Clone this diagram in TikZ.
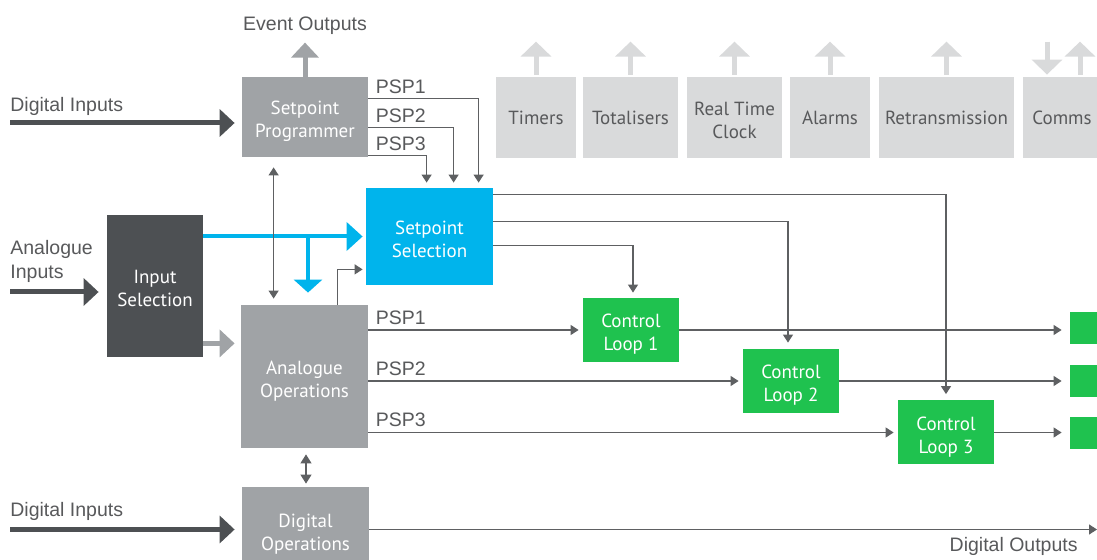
\documentclass[tikz,border=0pt]{standalone}
\usepackage{fontspec}
\setmainfont{Liberation Sans}
\newfontfamily\blkfont{PT Sans}
\usetikzlibrary{arrows.meta,calc}
\definecolor{txtgray}{HTML}{58595B}
\definecolor{linegray}{HTML}{5E6062}
\definecolor{darkbox}{HTML}{4D5053}
\definecolor{midgray}{HTML}{A0A3A6}
\definecolor{lightgray}{HTML}{D9DADB}
\definecolor{spblue}{HTML}{00B4EC}
\definecolor{loopgreen}{HTML}{1FC24F}
\begin{document}
\begin{tikzpicture}[x=0.5pt,y=-0.5pt,
  box/.style={inner sep=0pt,align=center,text=white,font=\blkfont\fontsize{9.5}{11.5}\selectfont},
  blk/.style={box,text height=21pt,text depth=0pt},
  topbox/.style={box,fill=lightgray,text=txtgray,minimum height=40.5pt},
  loopbox/.style={blk,fill=loopgreen,minimum width=48pt,minimum height=32pt},
  lbl/.style={inner sep=0pt,text=txtgray,font=\fontsize{9.75}{12}\selectfont},
  thin/.style={draw=linegray,line width=0.6pt,-{Triangle[width=5pt,length=4pt]}},
  fat/.style={line width=2.5pt,-{Triangle[width=13.5pt,length=7.5pt]}}]

\useasboundingbox (0,0) rectangle (1097,560);
\clip (0,0) rectangle (1097,560);

% blocks
\node[blk,fill=midgray,minimum width=63pt,minimum height=40pt] (prog) at (305,117) {Setpoint\\Programmer};
\node[topbox,minimum width=40pt] (timers) at (536,117.5) {Timers};
\node[topbox,minimum width=47.5pt] (totals) at (630.5,117.5) {Totalisers};
\node[topbox,minimum width=47.5pt,text height=21pt,text depth=0pt] (rtc) at (734.5,117.5) {Real Time\\Clock};
\node[topbox,minimum width=40pt] (alarms) at (830,117.5) {Alarms};
\node[topbox,minimum width=67.5pt] (retrans) at (946.5,117.5) {Retransmission};
\node[topbox,minimum width=39pt] (comms) at (1062,117.5) {Comms};
\node[blk,fill=spblue,minimum width=63.5pt,minimum height=48.5pt] (setsel) at (429.5,236.5) {Setpoint\\Selection};
\node[blk,fill=darkbox,minimum width=48pt,minimum height=71pt] (insel) at (155,286) {Input\\Selection};
\node[blk,fill=midgray,minimum width=63.5pt,minimum height=71.5pt] (anaop) at (304.5,376.5) {Analogue\\Operations};
\node[blk,fill=midgray,minimum width=63.5pt,minimum height=42.5pt] (digop) at (305.5,529.5) {Digital\\Operations};
\node[loopbox] (cl1) at (631,330) {Control\\Loop 1};
\node[loopbox] (cl2) at (791,381) {Control\\Loop 2};
\node[loopbox] (cl3) at (946,432.5) {Control\\Loop 3};
\node[box,fill=loopgreen,minimum width=20pt,minimum height=16pt] (out1) at (1090,328.5) {};
\node[box,fill=loopgreen,minimum width=20pt,minimum height=16pt] (out2) at (1090,381) {};
\node[box,fill=loopgreen,minimum width=20pt,minimum height=16pt] (out3) at (1090,433) {};

% outside labels
\node[lbl] (evout) at (305,26) {Event Outputs};
\node[lbl,anchor=west] (digin1) at (10,106) {Digital Inputs};
\node[lbl,anchor=west,align=left] (anain) at (10,261) {Analogue\\Inputs};
\node[lbl,anchor=west] (digin2) at (10,511) {Digital Inputs};
\node[lbl,anchor=east] (digout) at (1078,546) {Digital Outputs};

% thick arrows
\coordinate (di1) at (10,123);
\coordinate (ai) at (10,292);
\coordinate (di2) at (10,529.5);
\draw[fat,darkbox,shorten >=3.5pt] (di1) -- (di1 -| prog.west);
\draw[fat,darkbox,shorten >=4pt] (ai) -- (ai -| insel.west);
\draw[fat,darkbox,shorten >=3.5pt] (di2) -- (digop.west);
\draw[fat,midgray] (prog.north) -- ++(0,-34);
\foreach \b in {timers,totals,rtc,alarms,retrans}
  \draw[fat,lightgray,-{Triangle[width=15pt,length=7.5pt]}] ($(\b.north)+(0,-2)$) -- ++(0,-33);
\draw[fat,lightgray,-{Triangle[width=15pt,length=7.5pt]}] ($(comms.north)+(-15,-35)$) -- ++(0,33);
\draw[fat,lightgray,-{Triangle[width=15pt,length=7.5pt]}] ($(comms.north)+(18,-2)$) -- ++(0,-33);
\coordinate (isplit) at ($(insel.south east)+(0,-14)$);
\draw[fat,midgray,shorten >=3pt] (isplit) -- (isplit -| anaop.west);
\coordinate (bsplit) at (308,236.5);
\draw[spblue,line width=2pt,-{Triangle[width=14pt,length=8pt]},shorten >=1.5pt] (insel.east |- setsel.west) -- (setsel.west);
\draw[spblue,line width=2pt,-{Triangle[width=14pt,length=6.5pt]}] (bsplit) -- ($(anaop.north -| bsplit)+(0,-12)$);

% programmer outputs
\coordinate (p1) at ($(prog.north east)+(0,22)$);
\coordinate (p2) at ($(prog.north east)+(0,51)$);
\coordinate (p3) at ($(prog.north east)+(0,79)$);
\draw[thin,shorten >=2.5pt] (p1) -| ($(setsel.north west)+(113,0)$);
\draw[thin,shorten >=2.5pt] (p2) -| ($(setsel.north west)+(88,0)$);
\draw[thin,shorten >=2.5pt] (p3) -| ($(setsel.north west)+(61,0)$);
\node[lbl,anchor=south west] (psp1a) at ($(p1)+(7,-5)$) {PSP1};
\node[lbl,anchor=south west] (psp2a) at ($(p2)+(7,-5)$) {PSP2};
\node[lbl,anchor=south west] (psp3a) at ($(p3)+(7,-5)$) {PSP3};

% analogue operations outputs
\coordinate (a1) at (anaop.east |- cl1.west);
\coordinate (a2) at (anaop.east |- cl2.west);
\coordinate (a3) at (anaop.east |- cl3.west);
\draw[thin,shorten >=2pt] (a1) -- (cl1.west);
\draw[thin,shorten >=2pt] (a2) -- (cl2.west);
\draw[thin,shorten >=2pt] (a3) -- (cl3.west);
\node[lbl,anchor=south west] (psp1b) at ($(a1)+(7,-5)$) {PSP1};
\node[lbl,anchor=south west] (psp2b) at ($(a2)+(7,-5)$) {PSP2};
\node[lbl,anchor=south west] (psp3b) at ($(a3)+(7,-5)$) {PSP3};
\draw[thin,shorten >=1.5pt] ($(anaop.north west)+(97,0)$) |- ($(setsel.south west)+(0,-16)$);

% setpoint selection to loops
\draw[thin,shorten >=3pt] ($(setsel.north east)+(0,7)$) -| (cl3.north);
\draw[thin,shorten >=3pt] ($(setsel.north east)+(0,34)$) -| ($(cl2.north)+(-3,0)$);
\draw[thin,shorten >=2.5pt] ($(setsel.north east)+(0,58)$) -| ($(cl1.north)+(2,0)$);

% loops to outputs
\draw[thin,shorten >=4pt] (cl1.east) -- (out1.west |- cl1.east);
\draw[thin,shorten >=4pt] (cl2.east) -- (out2.west |- cl2.east);
\draw[thin,shorten >=4pt] (cl3.east) -- (out3.west |- cl3.east);

% links between operations
\draw[thin,{Triangle[width=5pt,length=4pt]}-{Triangle[width=5pt,length=4pt]}] ($(prog.south west)+(32,10)$) -- ($(anaop.north west)+(33,-6)$);
\draw[thin,{Triangle[width=5.5pt,length=4.5pt]}-{Triangle[width=5.5pt,length=4.5pt]}] ($(anaop.south)+(1.5,6)$) -- ($(digop.north)+(0.5,-3)$);
\coordinate (dout) at (1097,529.5);
\draw[thin] (digop.east) -- (dout);

\end{tikzpicture}
\end{document}
